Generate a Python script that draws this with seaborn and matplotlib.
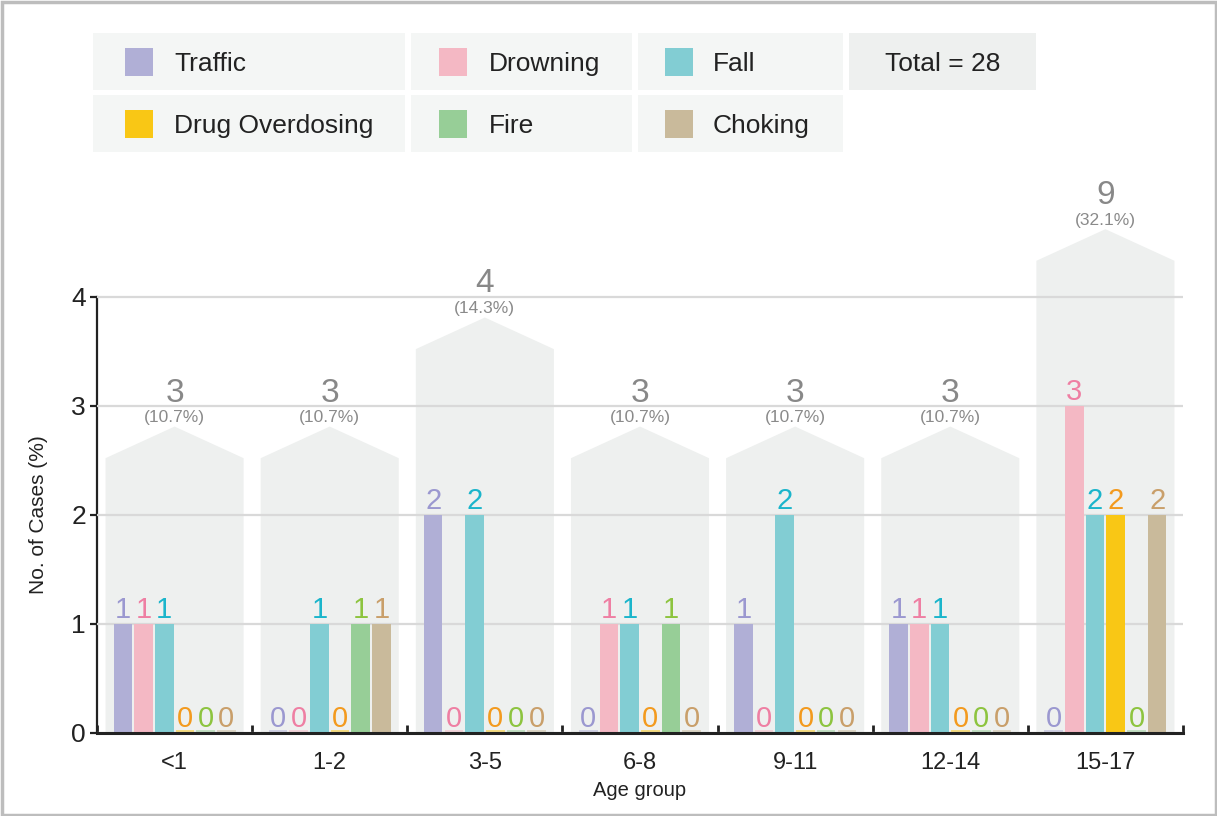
import numpy as np
import pandas as pd
import matplotlib
matplotlib.use("Agg")
import matplotlib.pyplot as plt
from matplotlib.patches import Rectangle, Polygon
import seaborn as sns

# ---------------- data ----------------
age_groups = ["<1", "1-2", "3-5", "6-8", "9-11", "12-14", "15-17"]
causes = ["Traffic", "Drowning", "Fall", "Drug Overdosing", "Fire", "Choking"]
traffic = [1, 0, 2, 0, 1, 1, 0]
drowning = [1, 0, 0, 1, 0, 1, 3]
fall = [1, 1, 2, 1, 2, 1, 2]
drug_overdosing = [0, 0, 0, 0, 0, 0, 2]
fire = [0, 1, 0, 1, 0, 0, 0]
choking = [0, 1, 0, 0, 0, 0, 2]
total_label = "Total = 28"

series = [traffic, drowning, fall, drug_overdosing, fire, choking]
bar_colors = ["#B0AFD6", "#F4B8C4", "#82CDD3", "#F9C715", "#97CE97", "#C9BA9B"]
label_colors = ["#9B98D0", "#EE7FA3", "#1BB5CB", "#F39A1E", "#8DC43F", "#C99F6A"]

rows = []
for cause, vals in zip(causes, series):
    for age, v in zip(age_groups, vals):
        rows.append({"age": age, "cause": cause, "cases": v})
df = pd.DataFrame(rows)
totals = df.groupby("age", sort=False)["cases"].sum().reindex(age_groups)
grand_total = totals.sum()

# ---------------- figure ----------------
sns.set_theme(style="white")
plt.rcParams["font.family"] = ["Liberation Sans", "DejaVu Sans"]

W, H = 1217, 816
fig = plt.figure(figsize=(W / 100, H / 100), dpi=100)

def fx(x):
    return x / W

def fy(y):
    return 1 - y / H

ax_left, ax_right, ax_bottom, ax_top = 97, 1183, 733, 155
ax = fig.add_axes([fx(ax_left), fy(ax_bottom), (ax_right - ax_left) / W, (ax_bottom - ax_top) / H])
ax.set_facecolor("none")
ymax = 5.3

# house-shaped backdrops (height grows with group total, capped)
house_col = "#EEF0EF"
hw = 0.445
for i, age in enumerate(age_groups):
    s = min(totals[age] - 0.48, 4.33)
    peak = s + 0.29
    poly = Polygon([(i - hw, 0), (i - hw, s), (i, peak), (i + hw, s), (i + hw, 0)],
                   closed=True, facecolor=house_col, edgecolor="none", zorder=0)
    ax.add_patch(poly)
    pct = 100 * totals[age] / grand_total
    ax.annotate(f"({pct:.1f}%)", (i, peak), xytext=(0, 3), textcoords="offset points",
                ha="center", va="baseline", fontsize=12.5, color="#8A8A8A", zorder=5)
    ax.annotate(f"{totals[age]}", (i, peak), xytext=(0, 18), textcoords="offset points",
                ha="center", va="baseline", fontsize=24, color="#888888", zorder=5)

sns.barplot(data=df, x="age", y="cases", hue="cause", order=age_groups, hue_order=causes,
            palette=bar_colors, width=0.8, gap=0.1, ax=ax, legend=False, zorder=3,
            saturation=1, edgecolor="none", linewidth=0)

for cont, lc, col in zip(ax.containers, label_colors, bar_colors):
    ax.bar_label(cont, labels=[f"{int(b.get_height())}" for b in cont], padding=0,
                 fontsize=21, color=lc, zorder=6)
    for b in cont:
        if b.get_height() == 0:
            ax.add_patch(Rectangle((b.get_x(), 0), b.get_width(), 0.025,
                                   facecolor=col, alpha=0.5, edgecolor="none", zorder=3))

ax.set_xlim(-0.5, len(age_groups) - 0.5)
ax.set_ylim(0, ymax)
ax.set_yticks([0, 1, 2, 3, 4])
ax.yaxis.grid(True, color="#D9D9D9", linewidth=1.6, zorder=1)
ax.set_axisbelow(False)
for gl in ax.get_ygridlines():
    gl.set_zorder(1)
ax.xaxis.grid(False)

for sp in ["top", "right"]:
    ax.spines[sp].set_visible(False)
ax.spines["left"].set_bounds(0, 4)
ax.spines["left"].set_color("#222222")
ax.spines["left"].set_linewidth(1.6)
ax.spines["bottom"].set_color("#222222")
ax.spines["bottom"].set_linewidth(2.2)
ax.spines["bottom"].set_zorder(7)

ax.tick_params(axis="y", which="major", direction="out", length=5, width=1.6,
               color="#222222", labelsize=19, labelcolor="#222222", pad=3, left=True)
ax.tick_params(axis="x", which="major", length=0, labelsize=17, labelcolor="#222222", pad=14)
ax.set_xticks(np.arange(-0.5, len(age_groups)), minor=True)
ax.tick_params(axis="x", which="minor", direction="in", length=6, width=2, color="#222222",
               bottom=True)

ax.set_xlabel("Age group", fontsize=14.5, color="#222222")
ax.set_ylabel("No. of Cases (%)", fontsize=15, color="#222222")
ax.xaxis.set_label_coords(0.5, -(781 - 733) / (ax_bottom - ax_top))
ax.yaxis.set_label_coords(-(97 - 48) / (ax_right - ax_left), 4 / ymax / 2)

# ---------------- legend boxes ----------------
leg_bg = "#F4F6F5"
boxes_x = [(93, 405), (411, 632), (638, 843)]
rows_y = [(33, 90), (95, 152)]
leg_items = [[("Traffic", 0), ("Drowning", 1), ("Fall", 2)],
             [("Drug Overdosing", 3), ("Fire", 4), ("Choking", 5)]]
sw_off = [32, 28, 27]
tx_off = [81, 78, 75]
for r, (y0, y1) in enumerate(rows_y):
    for c, (x0, x1) in enumerate(boxes_x):
        name, k = leg_items[r][c]
        fig.patches.append(Rectangle((fx(x0), fy(y1)), fx(x1 - x0), (y1 - y0) / H,
                                     transform=fig.transFigure, facecolor=leg_bg,
                                     edgecolor="none", zorder=0))
        ym = (y0 + y1) / 2
        fig.patches.append(Rectangle((fx(x0 + sw_off[c]), fy(ym + 14)), fx(28), 28 / H,
                                     transform=fig.transFigure, facecolor=bar_colors[k],
                                     edgecolor="none", zorder=1))
        fig.text(fx(x0 + tx_off[c]), fy(ym), name, fontsize=19, color="#222222",
                 ha="left", va="center_baseline")
# total box
fig.patches.append(Rectangle((fx(849), fy(90)), fx(1036 - 849), 57 / H,
                             transform=fig.transFigure, facecolor="#EEF0EF",
                             edgecolor="none", zorder=0))
fig.text(fx(942.5), fy(61.5), total_label, fontsize=19, color="#222222",
         ha="center", va="center_baseline")

# outer frame
fig.patches.append(Rectangle((fx(1.5), fy(814.5)), fx(1214), 813 / H,
                             transform=fig.transFigure, facecolor="none",
                             edgecolor="#BDBDBD", linewidth=2.5, zorder=10))

fig.savefig("out.png", dpi=100)
